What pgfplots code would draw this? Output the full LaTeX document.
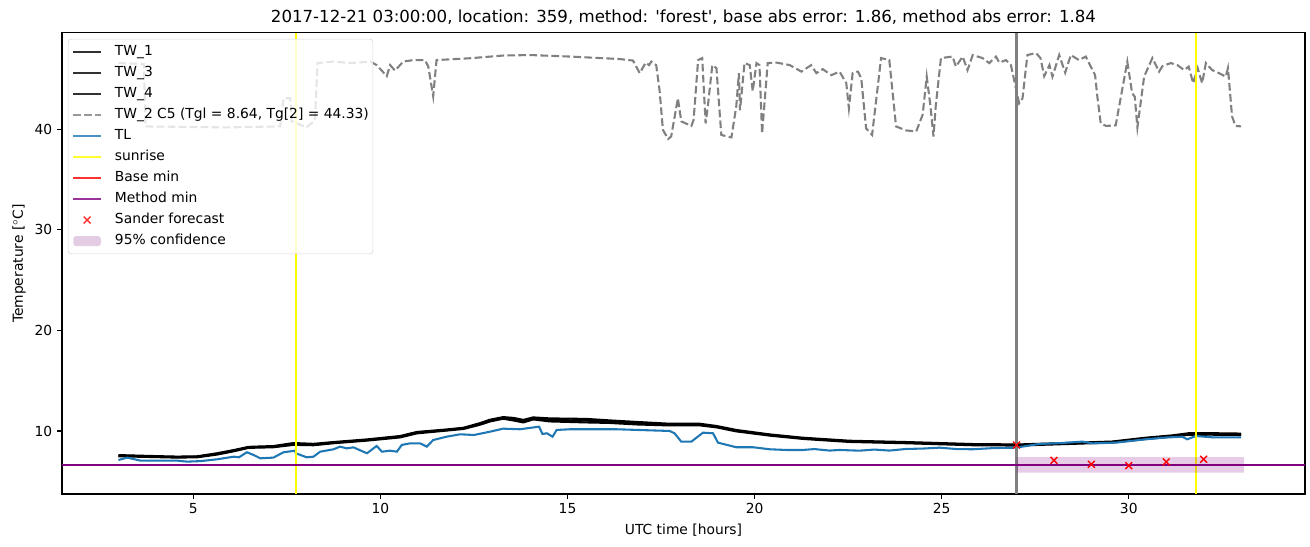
\documentclass[border=0pt]{standalone}
\usepackage{fontspec}
\setmainfont{DejaVu Sans}
\usepackage{pgfplots}
\pgfplotsset{compat=1.18}
\definecolor{tabblue}{RGB}{31,119,180}
\definecolor{mplpurple}{RGB}{128,0,128}
\definecolor{mplgray}{RGB}{128,128,128}
\definecolor{mplyellow}{RGB}{255,255,0}
\definecolor{mplred}{RGB}{255,0,0}
\definecolor{legedge}{RGB}{204,204,204}
\begin{document}
\begin{tikzpicture}
\useasboundingbox (0,0) rectangle (946.7pt,395.3pt);
\begin{axis}[
  at={(44.8pt,38.3pt)}, anchor=south west,
  scale only axis, width=898.3pt, height=333.2pt,
  xmin=1.49, xmax=34.71, ymin=3.73, ymax=49.6,
  xtick={5,10,15,20,25,30}, ytick={10,20,30,40},
  tick align=outside, major tick length=3.5pt, tick pos=left,
  /pgf/number format/assume math mode=true,
  ticklabel style={font=\fontsize{10}{12}\selectfont},
  axis line style={line width=0.8pt},
  every tick/.style={black, line width=0.8pt},
  every axis x label/.style={at={(axis description cs:0.5,0)}, anchor=base, yshift=-29.6pt, font=\fontsize{10}{12}\selectfont},
  every axis y label/.style={at={(axis description cs:0,0.5)}, xshift=-28.2pt, rotate=90, anchor=base, font=\fontsize{10}{12}\selectfont},
  every axis title/.style={at={(axis description cs:0.5,1)}, anchor=base, yshift=7.3pt, font=\fontsize{12}{14}\selectfont},
  xlabel={UTC time [hours]},
  ylabel={Temperature [$^\circ$C]},
  title={2017-12-21 03:00:00, location: 359, method: \textquotesingle forest\textquotesingle, base abs error: 1.86, method abs error: 1.84},
  legend cell align=left,
  legend image code/.code={\draw[mark repeat=2,mark phase=2] plot coordinates {(0pt,0pt) (10pt,0pt) (20pt,0pt)};},
  legend style={at={(0,1)}, anchor=north west, xshift=4.3pt, yshift=-4.3pt,
    draw=legedge, rounded corners=2pt, fill=white, fill opacity=0.8, text opacity=1, draw opacity=0.8,
    inner xsep=2.9pt, inner ysep=4pt, row sep=4.9pt,
    font=\fontsize{10}{12}\selectfont,
    nodes={inner sep=0pt, text height=7.6pt, text depth=2.7pt},
    /tikz/every odd column/.append style={column sep=9.4pt}},
]
% TW_1
\addplot[black, line width=1.5pt] coordinates {(3.0,7.55) (3.5,7.5) (4.0,7.45) (4.57,7.4) (5.1,7.44) (5.63,7.71) (6.08,8.04) (6.48,8.38) (7.14,8.44) (7.68,8.71) (8.21,8.64) (8.75,8.84) (9.64,9.1) (10.53,9.43) (10.97,9.83) (11.77,10.1) (12.22,10.27) (12.66,10.7) (12.93,11.03) (13.28,11.3) (13.55,11.16) (13.82,10.93) (14.08,11.26) (14.53,11.1) (15.51,11.03) (16.13,10.93) (16.84,10.77) (17.73,10.63) (18.53,10.63) (18.98,10.43) (19.51,10.03) (20.4,9.6) (21.29,9.27) (22.53,8.97) (24.05,8.84) (25.83,8.64) (27.05,8.6) (28.5,8.77) (29.56,8.9) (30.45,9.27) (31.16,9.5) (31.61,9.7) (32.2,9.7) (33.0,9.67)};
\addlegendentry{TW\_1}
% TW_3
\addplot[black, line width=1.5pt] coordinates {(3.0,7.6) (3.5,7.55) (4.0,7.5) (4.57,7.45) (5.1,7.48) (5.63,7.78) (6.08,8.1) (6.48,8.42) (7.14,8.5) (7.68,8.8) (8.21,8.72) (8.75,8.9) (9.64,9.16) (10.53,9.5) (10.97,9.9) (11.77,10.15) (12.22,10.32) (12.66,10.78) (12.93,11.12) (13.28,11.38) (13.55,11.3) (13.82,11.1) (14.08,11.35) (14.53,11.25) (15.51,11.2) (16.13,11.05) (16.84,10.9) (17.73,10.72) (18.53,10.72) (18.98,10.5) (19.51,10.1) (20.4,9.66) (21.29,9.33) (22.53,9.03) (24.05,8.9) (25.83,8.7) (27.05,8.66) (28.5,8.82) (29.56,8.95) (30.45,9.33) (31.16,9.56) (31.61,9.78) (32.2,9.78) (33.0,9.74)};
\addlegendentry{TW\_3}
% TW_4
\addplot[black, line width=1.5pt] coordinates {(3.0,7.48) (3.5,7.44) (4.0,7.4) (4.57,7.35) (5.1,7.38) (5.63,7.65) (6.08,7.98) (6.48,8.32) (7.14,8.38) (7.68,8.62) (8.21,8.58) (8.75,8.78) (9.64,9.04) (10.53,9.36) (10.97,9.76) (11.77,10.04) (12.22,10.2) (12.66,10.62) (12.93,10.95) (13.28,11.22) (13.55,11.05) (13.82,10.85) (14.08,11.15) (14.53,10.95) (15.51,10.85) (16.13,10.8) (16.84,10.65) (17.73,10.55) (18.53,10.56) (18.98,10.36) (19.51,9.96) (20.4,9.54) (21.29,9.21) (22.53,8.91) (24.05,8.78) (25.83,8.58) (27.05,8.55) (28.5,8.72) (29.56,8.85) (30.45,9.2) (31.16,9.44) (31.61,9.62) (32.2,9.63) (33.0,9.6)};
\addlegendentry{TW\_4}
% TW_2
\addplot[mplgray, line width=1.5pt, dash pattern=on 5.55pt off 2.4pt] coordinates {(3.0,46.6) (3.68,46.5) (3.72,40.3) (5.9,40.2) (7.32,40.3) (7.41,43.1) (7.59,43.1) (7.63,40.8) (8.03,40.2) (8.25,40.9) (8.32,46.6) (8.75,46.75) (9.2,46.6) (9.73,46.75) (9.9,46.4) (10.17,45.3) (10.26,46.4) (10.39,45.85) (10.61,46.75) (10.88,46.9) (11.19,46.9) (11.28,46.25) (11.41,43.3) (11.5,46.9) (12.39,47.08) (13.28,47.35) (14.0,47.4) (15.06,47.25) (16.4,47.0) (16.75,46.85) (16.93,45.6) (17.09,46.65) (17.18,46.4) (17.24,46.75) (17.37,46.4) (17.46,43.9) (17.55,39.95) (17.69,39.05) (17.77,39.3) (17.95,43.1) (18.04,40.8) (18.31,40.35) (18.37,40.95) (18.49,46.9) (18.6,47.1) (18.69,40.6) (18.75,42.3) (18.87,46.4) (18.98,46.1) (19.11,39.45) (19.38,39.2) (19.51,42.3) (19.58,45.6) (19.61,41.9) (19.73,46.6) (19.87,46.4) (19.95,43.8) (20.05,46.6) (20.13,46.4) (20.2,39.6) (20.35,46.6) (20.58,46.65) (20.94,46.4) (21.25,45.75) (21.51,46.4) (21.65,45.6) (21.82,46.0) (22.05,45.4) (22.27,45.75) (22.45,44.6) (22.52,42.1) (22.62,45.6) (22.76,45.75) (22.85,45.1) (22.98,40.1) (23.14,39.45) (23.38,47.1) (23.6,46.9) (23.78,40.3) (24.05,39.9) (24.32,39.8) (24.49,41.45) (24.6,45.25) (24.7,42.3) (24.78,39.3) (24.84,42.3) (24.98,47.1) (25.29,47.25) (25.38,46.25) (25.56,47.25) (25.69,45.9) (25.83,47.4) (26.09,47.1) (26.27,46.6) (26.45,47.25) (26.54,46.65) (26.72,46.9) (26.85,46.4) (27.07,42.6) (27.16,43.1) (27.29,47.4) (27.52,47.6) (27.64,47.1) (27.74,45.3) (27.88,46.4) (27.96,45.25) (28.14,47.4) (28.3,45.65) (28.45,47.4) (28.67,46.9) (28.85,47.25) (29.1,45.4) (29.16,43.25) (29.25,40.6) (29.39,40.35) (29.65,40.4) (29.96,46.75) (30.09,43.6) (30.16,43.25) (30.23,40.2) (30.41,45.25) (30.63,47.1) (30.81,45.75) (30.9,46.3) (31.12,46.6) (31.3,46.4) (31.48,45.9) (31.6,46.25) (31.72,44.6) (31.84,46.1) (31.96,44.6) (32.06,46.6) (32.23,45.9) (32.41,45.6) (32.59,45.25) (32.65,46.1) (32.76,41.3) (32.85,40.35) (33.0,40.3)};
\addlegendentry{TW\_2 C5 (Tgl = 8.64, Tg[2] = 44.33)}
% TL
\addplot[tabblue, line width=1.5pt] coordinates {(3.0,7.11) (3.23,7.35) (3.59,7.05) (4.57,7.05) (4.83,6.95) (5.19,7.0) (5.63,7.18) (6.08,7.44) (6.22,7.38) (6.43,7.88) (6.61,7.61) (6.79,7.28) (7.14,7.35) (7.41,7.88) (7.72,8.04) (7.74,7.78) (8.03,7.38) (8.21,7.44) (8.39,7.94) (8.75,8.18) (8.92,8.44) (9.1,8.27) (9.28,8.37) (9.64,7.78) (9.9,8.51) (10.04,7.94) (10.26,8.04) (10.44,7.94) (10.57,8.61) (10.79,8.77) (11.06,8.77) (11.24,8.44) (11.41,9.1) (11.77,9.43) (12.13,9.67) (12.5,9.6) (12.93,9.93) (13.28,10.23) (13.73,10.17) (14.24,10.43) (14.33,9.7) (14.45,9.77) (14.6,9.43) (14.71,10.1) (15.06,10.17) (16.31,10.17) (17.73,10.0) (17.86,9.77) (18.04,8.94) (18.31,8.94) (18.62,9.83) (18.89,9.77) (19.02,8.84) (19.51,8.38) (19.96,8.38) (20.4,8.18) (20.84,8.11) (21.29,8.11) (21.6,8.2) (22.0,8.05) (22.27,8.11) (22.8,8.04) (23.2,8.15) (23.6,8.05) (24.05,8.21) (24.5,8.25) (24.94,8.34) (25.4,8.2) (25.83,8.18) (26.4,8.3) (26.98,8.34) (27.61,8.71) (28.2,8.8) (28.76,8.94) (29.03,8.77) (29.65,8.84) (30.45,9.17) (31.0,9.35) (31.43,9.43) (31.56,9.17) (31.79,9.5) (32.23,9.37) (33.0,9.37)};
\addlegendentry{TL}
% sunrise
\addplot[mplyellow, line width=1.5pt] coordinates {(7.75,3.73) (7.75,49.6)};
\addlegendentry{sunrise}
\addplot[mplyellow, line width=1.5pt, forget plot] coordinates {(31.8,3.73) (31.8,49.6)};
% forecast time
\addplot[mplgray, line width=1.5pt, forget plot] coordinates {(27.0,3.73) (27.0,49.6)};
% Base min
\addplot[mplred, line width=1.5pt] coordinates {(1.49,6.62) (34.71,6.62)};
\addlegendentry{Base min}
% Method min
\addplot[mplpurple, line width=1.5pt] coordinates {(1.49,6.62) (34.71,6.62)};
\addlegendentry{Method min}
% Sander forecast
\addplot[only marks, mark=x, mplred, mark size=3.5pt, mark options={line width=1pt}] coordinates {(27,8.6) (28,7.08) (29,6.68) (30,6.55) (31,6.92) (32,7.18)};
\addlegendentry{Sander forecast}
% 95% confidence
\addplot[draw=none, fill=mplpurple, fill opacity=0.2,
  legend image code/.code={\fill[mplpurple, fill opacity=0.2] (0pt,-3.6pt) rectangle (20pt,3.6pt);}]
  coordinates {(27,5.85) (33.08,5.85) (33.08,7.4) (27,7.4) (27,5.85)};
\addlegendentry{95\% confidence}
\end{axis}
\end{tikzpicture}
\end{document}
